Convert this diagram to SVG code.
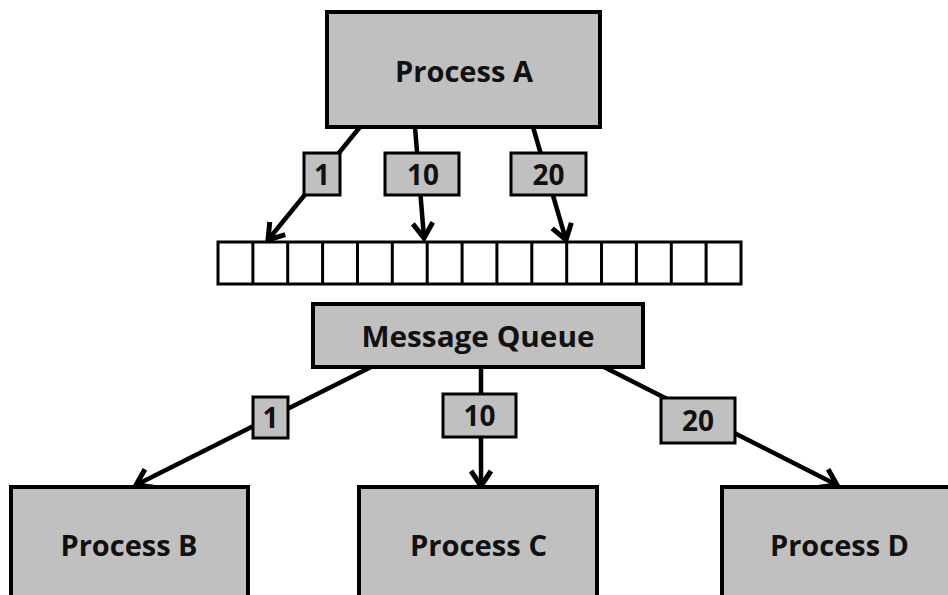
<svg xmlns="http://www.w3.org/2000/svg" width="948" height="595" viewBox="0 0 948 595">
  <style>
    .box { fill: #c0c0c0; stroke: #000; stroke-width: 4; }
    .tag { fill: #c0c0c0; stroke: #000; stroke-width: 3; }
    .cell { fill: #fff; stroke: #000; stroke-width: 3; }
    .div { stroke: #000; stroke-width: 3; }
    .edge { stroke: #000; stroke-width: 4.5; fill: none; marker-end: url(#head); }
    .name { font-family: "Open Sans", "Liberation Sans", sans-serif; font-weight: bold; font-size: 28px; fill: #111; text-anchor: middle; }
    .num { font-family: "Open Sans", "Liberation Sans", sans-serif; font-weight: bold; font-size: 28px; fill: #111; text-anchor: middle; }
  </style>
  <defs>
    <marker id="head" markerUnits="userSpaceOnUse" markerWidth="30" markerHeight="30" viewBox="-20 -15 30 30" refX="0" refY="0" orient="auto">
      <path d="M -15 -10 L 0 0 L -15 10" fill="none" stroke="#000" stroke-width="5" stroke-linejoin="miter"/>
    </marker>
  </defs>

  <rect width="948" height="595" fill="#fff"/>

  <!-- queue slots -->
  <g id="queue-slots">
    <rect class="cell" x="218" y="242" width="523" height="42"/>
    <path class="div" d="M252.9 242V284M287.7 242V284M322.6 242V284M357.5 242V284M392.3 242V284M427.2 242V284M462.1 242V284M496.9 242V284M531.8 242V284M566.7 242V284M601.5 242V284M636.4 242V284M671.3 242V284M706.1 242V284"/>
  </g>

  <!-- connectors -->
  <g id="connectors">
    <line class="edge" x1="360" y1="127" x2="268" y2="240"/>
    <line class="edge" x1="415" y1="127" x2="424" y2="238"/>
    <line class="edge" x1="533" y1="127" x2="566" y2="240"/>
    <line class="edge" x1="375" y1="365" x2="136" y2="485"/>
    <line class="edge" x1="481" y1="367" x2="481" y2="486"/>
    <line class="edge" x1="598" y1="364" x2="837" y2="485"/>
  </g>

  <!-- priority tags on the connectors -->
  <g id="tag-a1">
    <rect class="tag" x="304" y="153" width="36" height="42"/>
    <text class="num" x="322" y="185">1</text>
  </g>
  <g id="tag-a10">
    <rect class="tag" x="385" y="153" width="74" height="42"/>
    <text class="num" x="423" y="185" textLength="32" lengthAdjust="spacingAndGlyphs">10</text>
  </g>
  <g id="tag-a20">
    <rect class="tag" x="511" y="153" width="75" height="42"/>
    <text class="num" x="548.5" y="185" textLength="32" lengthAdjust="spacingAndGlyphs">20</text>
  </g>
  <g id="tag-b1">
    <rect class="tag" x="253" y="397" width="35" height="41"/>
    <text class="num" x="270.5" y="428">1</text>
  </g>
  <g id="tag-c10">
    <rect class="tag" x="443" y="394" width="73" height="43"/>
    <text class="num" x="479.5" y="426" textLength="32" lengthAdjust="spacingAndGlyphs">10</text>
  </g>
  <g id="tag-d20">
    <rect class="tag" x="661" y="398" width="74" height="45"/>
    <text class="num" x="698" y="431" textLength="32" lengthAdjust="spacingAndGlyphs">20</text>
  </g>

  <!-- nodes -->
  <g id="process-a">
    <rect class="box" x="327" y="12" width="273" height="115"/>
    <text class="name" x="464" y="82" textLength="138" lengthAdjust="spacingAndGlyphs">Process A</text>
  </g>
  <g id="message-queue">
    <rect class="box" x="313" y="304" width="330" height="63"/>
    <text class="name" x="478" y="347" textLength="233" lengthAdjust="spacingAndGlyphs">Message Queue</text>
  </g>
  <g id="process-b">
    <rect class="box" x="11" y="487" width="237" height="130"/>
    <text class="name" x="129" y="556" textLength="137" lengthAdjust="spacingAndGlyphs">Process B</text>
  </g>
  <g id="process-c">
    <rect class="box" x="359" y="487" width="238" height="130"/>
    <text class="name" x="478.5" y="556" textLength="137" lengthAdjust="spacingAndGlyphs">Process C</text>
  </g>
  <g id="process-d">
    <rect class="box" x="722" y="487" width="240" height="130"/>
    <text class="name" x="839.5" y="556" textLength="139" lengthAdjust="spacingAndGlyphs">Process D</text>
  </g>
</svg>
